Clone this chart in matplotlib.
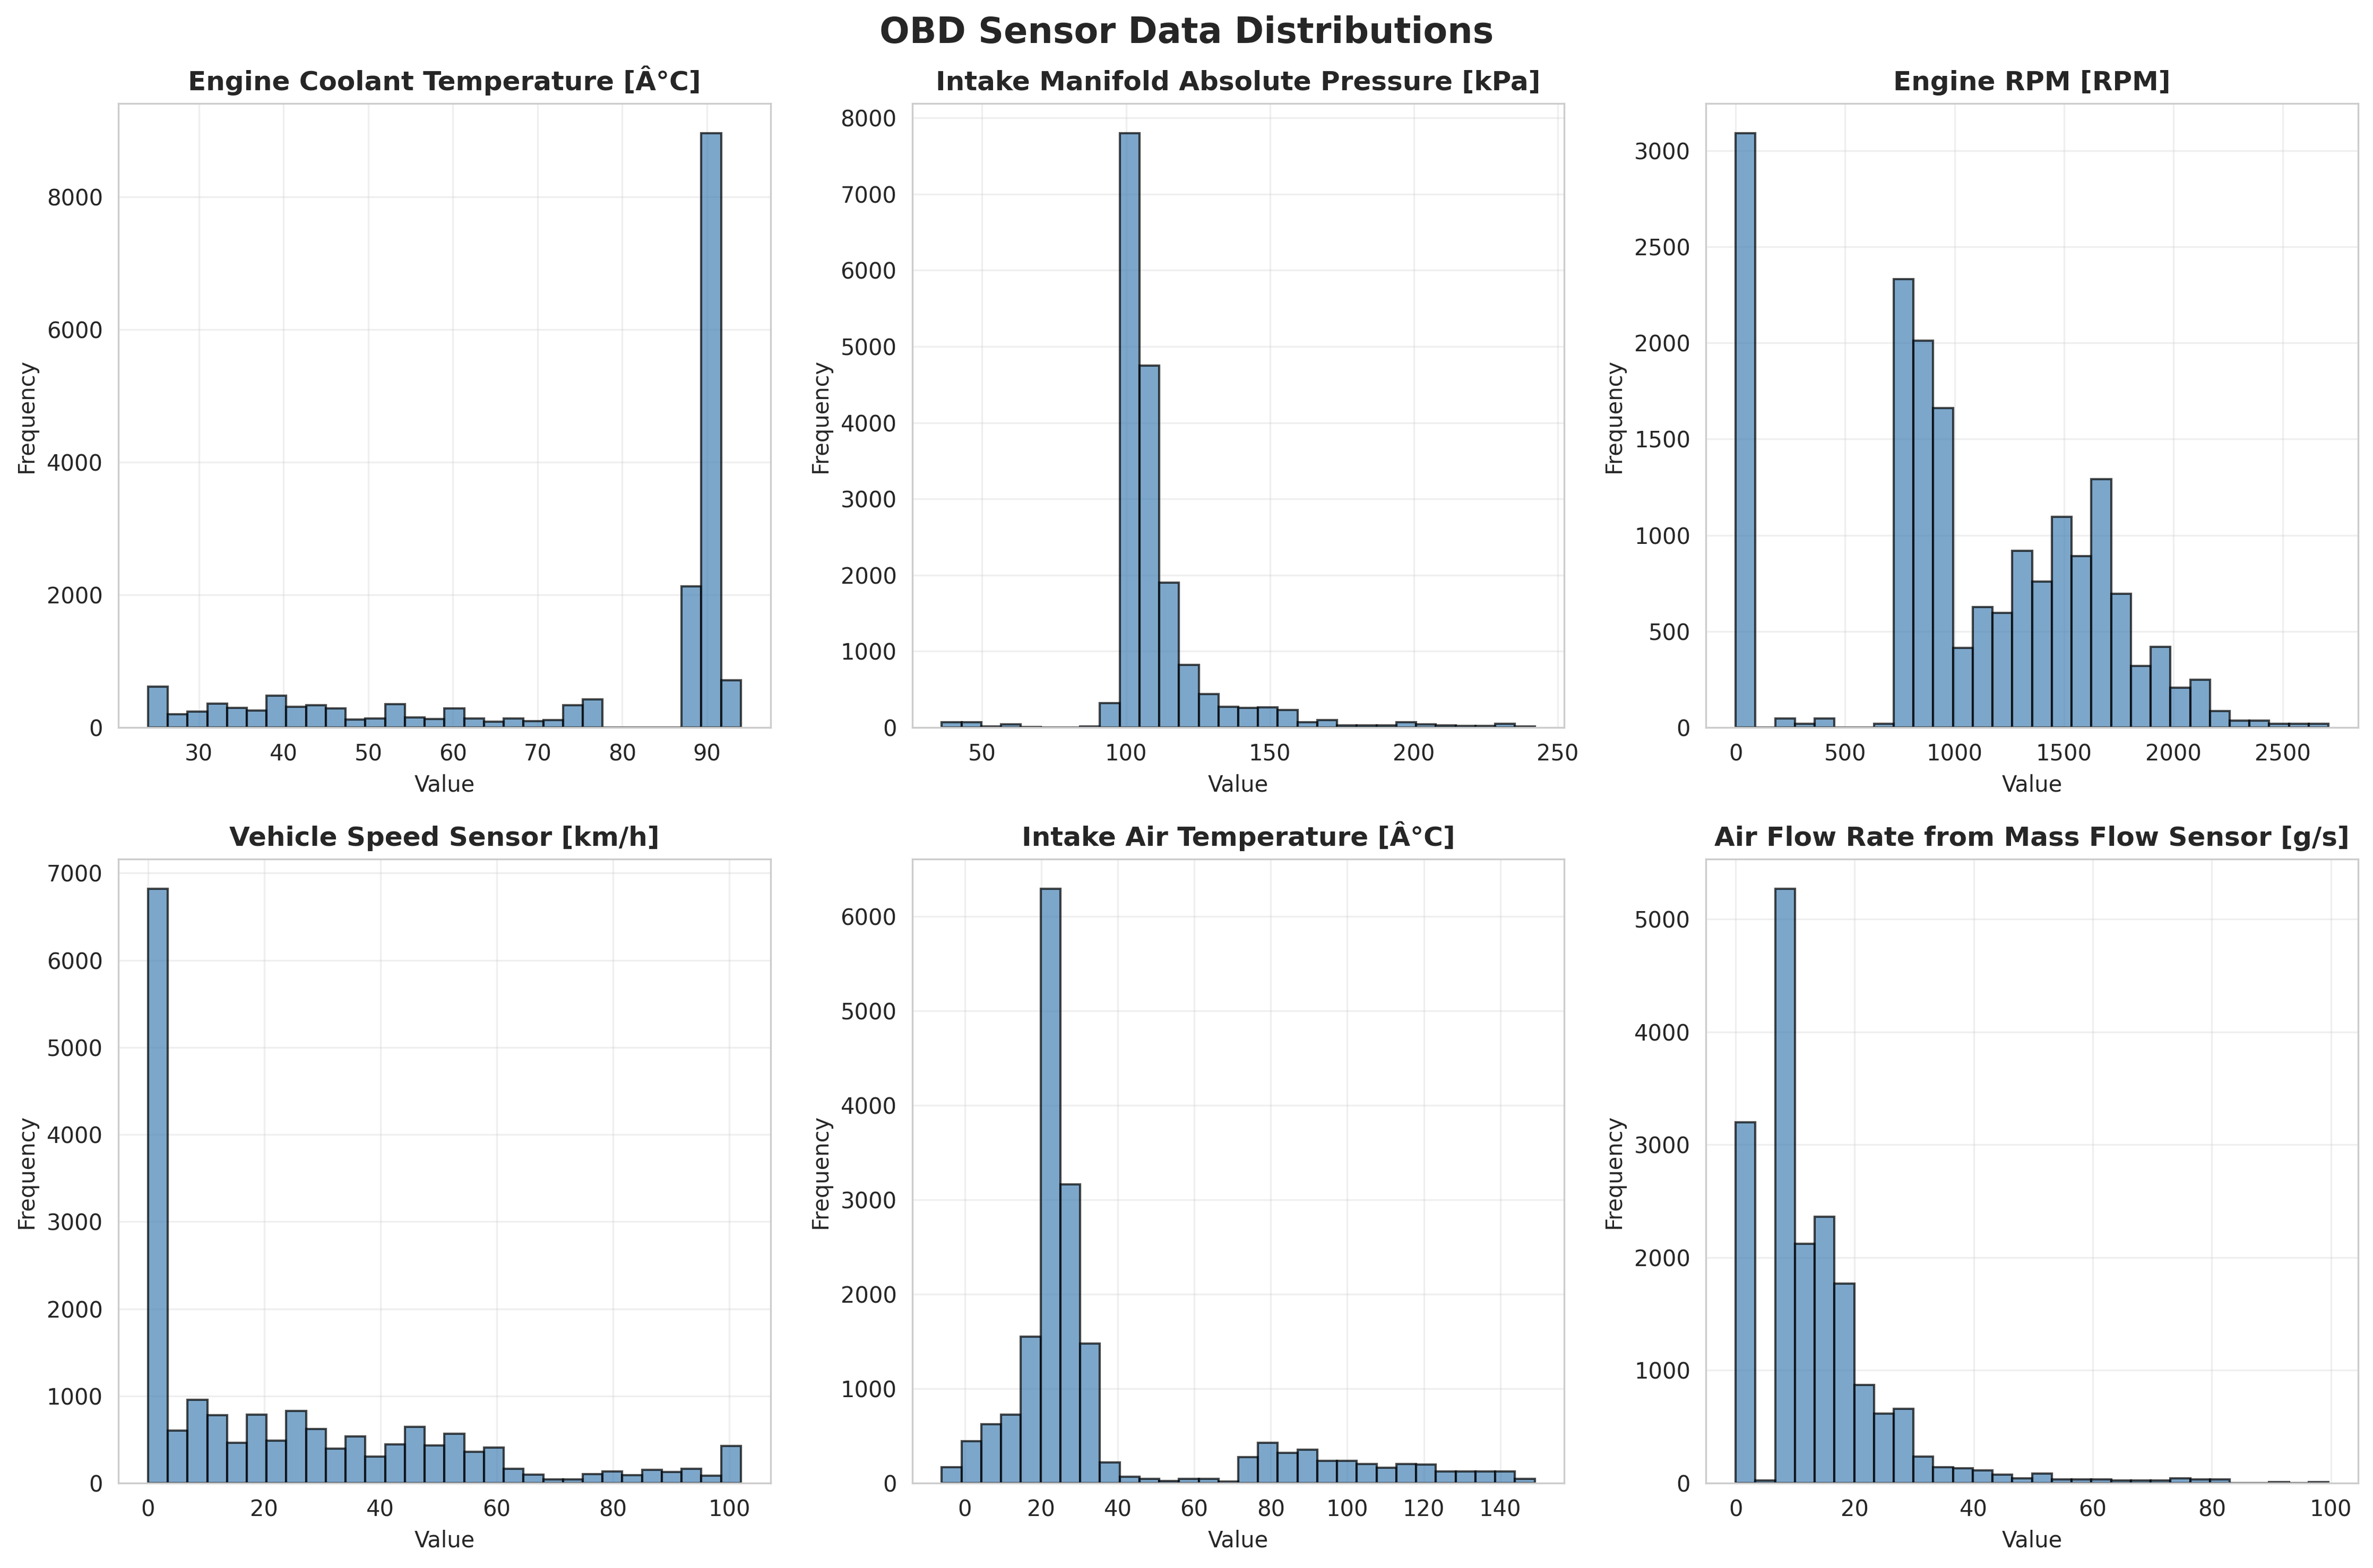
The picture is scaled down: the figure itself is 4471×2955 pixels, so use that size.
import numpy as np
import matplotlib
matplotlib.use('Agg')
import matplotlib.pyplot as plt

# titles and bin ranges
titles = ['Engine Coolant Temperature [Â°C]', 'Intake Manifold Absolute Pressure [kPa]', 'Engine RPM [RPM]',
          'Vehicle Speed Sensor [km/h]', 'Intake Air Temperature [Â°C]', 'Air Flow Rate from Mass Flow Sensor [g/s]']
ranges = [(24, 94), (36, 242), (0, 2708), (0, 102), (-6, 149), (0, 99.6)]

coolant = [612, 200, 243, 361, 297, 257, 481, 315, 337, 289, 120, 136, 355, 152, 128,
           289, 136, 88, 136, 96, 112, 337, 420, 1, 1, 1, 1, 2126, 8960, 714]
pressure = [72, 72, 12, 44, 5, 1, 1, 12, 318, 7800, 4750, 1900, 820, 437, 269,
            255, 262, 227, 70, 98, 30, 30, 30, 72, 44, 30, 23, 23, 51, 12]
rpm = [3090, 0, 47, 18, 47, 0, 0, 18, 2330, 2010, 1660, 413, 625, 596, 920,
       760, 1095, 890, 1290, 694, 319, 420, 208, 247, 86, 36, 36, 18, 18, 18]
speed = [6820, 600, 954, 777, 460, 783, 490, 826, 620, 398, 535, 303, 443, 645, 431,
         565, 362, 407, 163, 96, 41, 41, 102, 132, 90, 151, 126, 163, 83, 425]
intake_temp = [170, 442, 622, 723, 1549, 6290, 3160, 1476, 221, 66, 43, 21, 43, 43, 15,
               273, 425, 322, 352, 234, 234, 200, 161, 200, 195, 122, 122, 122, 122, 43]
air_flow = [3200, 22, 5270, 2120, 2360, 1767, 871, 615, 659, 234, 143, 130, 112, 74, 41,
            83, 31, 31, 31, 22, 22, 22, 41, 31, 31, 2, 1, 10, 1, 10]
counts = [coolant, pressure, rpm, speed, intake_temp, air_flow]

plt.rcParams.update({
    'font.family': 'DejaVu Sans',
    'text.color': '.15',
    'axes.labelcolor': '.15',
    'axes.edgecolor': '.8',
    'xtick.color': '.15',
    'ytick.color': '.15',
    'xtick.bottom': False,
    'ytick.left': False,
    'grid.color': '.8',
})

fig, axes = plt.subplots(2, 3, figsize=(4471 / 300, 2955 / 300), dpi=300)
fig.subplots_adjust(left=223 / 4471, right=4443 / 4471, top=1 - 195 / 2955, bottom=1 - 2795 / 2955,
                    wspace=0.2172, hspace=0.2109)

for ax, title, rng, vals in zip(axes.flat, titles, ranges, counts):
    edges = np.linspace(rng[0], rng[1], len(vals) + 1)
    centers = (edges[:-1] + edges[1:]) / 2
    ax.hist(centers, bins=edges, weights=vals, color='steelblue', edgecolor='black', alpha=0.7)
    ax.set_title(title, fontsize=12, fontweight='bold')
    ax.set_xlabel('Value', fontsize=10)
    ax.set_ylabel('Frequency', fontsize=10)
    ax.grid(True, alpha=0.3)
    ax.set_axisbelow(True)

fig.suptitle('OBD Sensor Data Distributions', fontsize=16, fontweight='bold', y=1 - 62 / 2955, va='center')
fig.savefig('out.png', dpi=300)
plt.close(fig)
